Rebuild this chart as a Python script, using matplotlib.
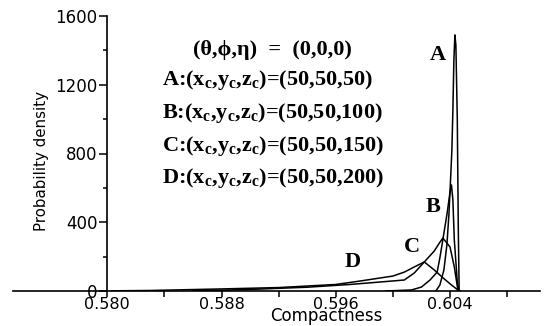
import matplotlib
matplotlib.use("Agg")
from matplotlib import pyplot as plt

# compactness distributions
A_x = [0.60301, 0.60329, 0.60357, 0.60378, 0.60392, 0.60402, 0.60413, 0.60420,
       0.60427, 0.60434, 0.60441, 0.60451, 0.60458, 0.60464]
A_y = [0, 35, 122, 268, 442, 617, 820, 1053, 1344, 1490, 1431, 995, 355, 0]

B_x = [0.5995, 0.6013, 0.6020, 0.6026, 0.6031, 0.6033, 0.6035, 0.6038, 0.6040,
       0.6041, 0.6042, 0.6043, 0.6045, 0.6046]
B_y = [0, 6, 23, 64, 110, 198, 300, 454, 576, 617, 529, 297, 64, 0]

C_x = [0.5860, 0.5900, 0.5940, 0.5970, 0.5995, 0.6008, 0.6015, 0.6022, 0.6029,
       0.6033, 0.6035, 0.6040, 0.6043, 0.60455, 0.6047]
C_y = [1, 9, 22, 38, 55, 64, 105, 169, 233, 285, 308, 256, 140, 6, 0]

D_x = [0.5803, 0.5830, 0.5880, 0.5920, 0.5960, 0.5977, 0.6000, 0.6008, 0.6015,
       0.6022, 0.6029, 0.6036, 0.6041, 0.60455, 0.6047]
D_y = [1, 3, 12, 20, 38, 58, 87, 110, 140, 169, 122, 70, 35, 6, 0]

curves = {"A": (A_x, A_y), "B": (B_x, B_y), "C": (C_x, C_y), "D": (D_x, D_y)}
centres = {"A": "50", "B": "100", "C": "150", "D": "200"}

x_major = [0.580, 0.588, 0.596, 0.604]
x_minor = [0.584, 0.592, 0.600, 0.608]
y_major = [0, 400, 800, 1200, 1600]
y_minor = [200, 600, 1000, 1400]

plt.rcParams["mathtext.fontset"] = "custom"
plt.rcParams["mathtext.rm"] = "Liberation Serif:bold"
plt.rcParams["mathtext.it"] = "Liberation Serif:bold"
plt.rcParams["mathtext.bf"] = "Liberation Serif:bold"

fig = plt.figure(figsize=(5.46, 3.26), dpi=100)
ax = fig.add_axes([13 / 546, 35 / 326, 527 / 546, 275 / 326])

for name, (xs, ys) in curves.items():
    ax.plot(xs, ys, color="k", lw=1.1)

ax.set_xlim(0.5734, 0.6103)
ax.set_ylim(0, 1600)

for s in ["top", "right"]:
    ax.spines[s].set_visible(False)
ax.spines["left"].set_position(("data", 0.580))
ax.spines["left"].set_bounds(0, 1600)
ax.spines["left"].set_linewidth(1.2)
ax.spines["bottom"].set_linewidth(1.2)

ax.set_xticks(x_major)
ax.set_xticks(x_minor, minor=True)
ax.set_xticklabels(["%.3f" % v for v in x_major])
ax.set_yticks(y_major)
ax.set_yticks(y_minor, minor=True)
ax.set_yticklabels([str(v) for v in y_major])

ax.tick_params(axis="x", which="both", direction="out", length=4, width=1.1,
               pad=0, labelsize=11.5)
ax.tick_params(axis="y", which="major", direction="out", length=6, width=1.1,
               pad=1, labelsize=12)
ax.tick_params(axis="y", which="minor", direction="out", length=3, width=1.1)

ax.set_xlabel("Compactness", fontsize=12, va="top")
ax.xaxis.set_label_coords(0.594, -0.058)
ax.set_ylabel("Probability density", fontsize=10.8, va="center")
ax.yaxis.set_label_coords(0.055, 0.473)

serif = dict(family=["Liberation Serif", "DejaVu Serif"], weight="bold",
             color="k")
ax.text(0.493, 0.876, "(θ,ϕ,η)  =  (0,0,0)", transform=ax.transAxes,
        ha="center", va="center", fontsize=16, **serif)
for i, name in enumerate(["A", "B", "C", "D"]):
    s = name + r":(x$_c$,y$_c$,z$_c$)=(50,50," + centres[name] + ")"
    ax.text(0.283, 0.767 - i * 0.119, s, transform=ax.transAxes,
            ha="left", va="center", fontsize=16, **serif)

label_pos = {"A": (0.806, 0.858), "B": (0.797, 0.305),
             "C": (0.757, 0.160), "D": (0.645, 0.105)}
for name, (fx, fy) in label_pos.items():
    ax.text(fx, fy, name, transform=ax.transAxes, ha="center", va="center",
            fontsize=16, **serif)

fig.savefig("out.png", dpi=100)
